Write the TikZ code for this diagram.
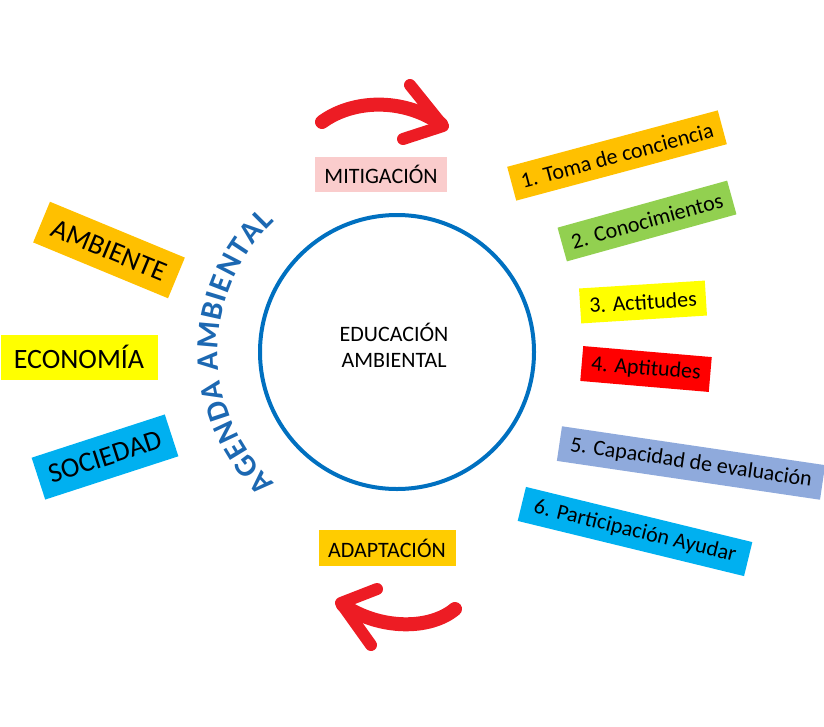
\documentclass[tikz,border=0pt]{standalone}
\usepackage{fontspec}
\setmainfont{Carlito}
\usetikzlibrary{decorations.text}

\definecolor{circleblue}{RGB}{0,112,192}
\definecolor{agendablue}{RGB}{28,104,178}
\definecolor{arrowred}{RGB}{237,28,36}
\definecolor{tagorange}{RGB}{255,192,0}
\definecolor{taggold}{RGB}{255,204,0}
\definecolor{taggreen}{RGB}{146,208,80}
\definecolor{tagyellow}{RGB}{255,255,0}
\definecolor{tagred}{RGB}{255,0,0}
\definecolor{taglilac}{RGB}{143,170,220}
\definecolor{tagcyan}{RGB}{0,176,240}
\definecolor{tagpink}{RGB}{250,204,204}

\begin{document}
\begin{tikzpicture}[x=1pt,y=1pt,
  tag/.style={inner xsep=8pt, inner ysep=0pt, minimum height=35pt,
    font=\fontsize{22}{26}\selectfont, text=black},
  bigtag/.style={tag, minimum height=44pt, font=\fontsize{28}{32}\selectfont},
  redarrow/.style={draw=arrowred, line cap=round, line join=round}]
  \useasboundingbox (0,0) rectangle (824,-726);

  % Centre circle
  \node[circle, draw=circleblue, line width=4pt, minimum size=274pt] (edu)
    at (397,-352) {};
  \node[align=center, font=\fontsize{22}{26}\selectfont] (edutext) at (394,-345)
    {EDUCACIÓN\\AMBIENTAL};

  % Curved title round the left side
  \path[decorate, decoration={text along path, text align=fit to path,
      text color=agendablue,
      text={|\fontsize{31}{34}\selectfont\bfseries|AGENDA AMBIENTAL}}]
    (edu.center) ++(227:179) arc[start angle=227, end angle=133, radius=179];

  % Left side
  \node[bigtag, fill=tagorange, rotate=-22.5, minimum width=146pt] (ambiente)
    at (109,-250) {AMBIENTE};
  \node[bigtag, fill=tagyellow, minimum width=157pt, minimum height=45pt] (economia)
    at (79,-357) {ECONOMÍA};
  \node[bigtag, fill=tagcyan, rotate=18, minimum width=140pt] (sociedad)
    at (105,-457) {SOCIEDAD};

  % Top and bottom
  \node[tag, fill=tagpink, minimum width=132pt] (mitigacion) at (381,-174) {MITIGACIÓN};
  \node[tag, fill=taggold, minimum width=137pt, minimum height=36pt] (adaptacion)
    at (387,-548) {ADAPTACIÓN};

  % Right side: number / x / y / angle / colour / width / text
  \foreach \n/\x/\y/\a/\c/\w/\t in {
      1/617/-155.5/15/tagorange/218/1. Toma de conciencia,
      2/647/-221/15.5/taggreen/176/2. Conocimientos,
      3/643/-302/3.6/tagyellow/126/3. Actitudes,
      4/646/-369/-4.9/tagred/129/4. Aptitudes,
      5/691/-463/-8.4/taglilac/266/5. Capacidad de evaluación,
      6/635/-531.5/-13.7/tagcyan/233/6. Participación Ayudar}{
    \node[tag, fill=\c, rotate=\a, minimum width=\w pt] (item\n) at (\x,\y) {\t};
  }

  % Red arrows
  \draw[redarrow, line width=14pt] (322,-122) .. controls (352,-100) and (402,-97) .. (441,-124);
  \draw[redarrow, line width=12pt] (410,-85) -- (443,-126) -- (403,-139);
  \draw[redarrow, line width=14pt] (455,-609) .. controls (430,-630) and (380,-630) .. (343,-605);
  \draw[redarrow, line width=12pt] (377,-589) -- (341,-603) -- (371,-645);
\end{tikzpicture}
\end{document}
